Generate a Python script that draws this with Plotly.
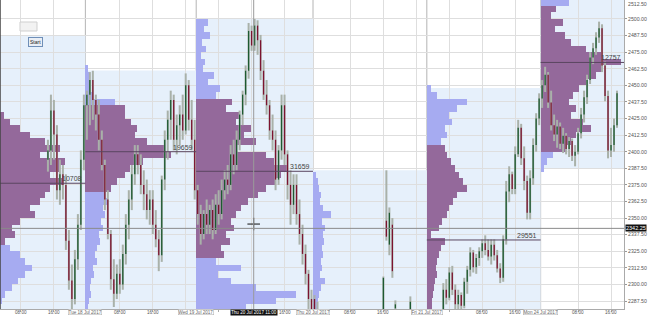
import plotly.graph_objects as go

# ---------------- data ----------------
# sessions (x in bar index, 1 bar per candle)
session_start = [-10, 28.5, 65.5, 104.5, 142.5, 180.5]
session_end = [28.5, 65.5, 104.5, 142.5, 180.5, 215]
session_high = [2487.5, 2461.25, 2500.5, 2386.0, 2448.0, 2520.0]
session_low = [2200.0, 2200.0, 2200.0, 2200.0, 2200.0, 2387.5]
va_high = [2430, 2435, 2440, 2270, 2405, 2508]
va_low = [2328, 2370, 2320, 2200, 2250, 2400]

# volume profiles: first bin centre (top) and volumes from top to bottom, 5-pt bins
BIN = 5.0
VOL_PER_BAR = 600.0
profile_top = [2487.5, 2462.5, 2497.5, 2382.5, 2447.5, 2512.5]
s1_vol = [2400, 3000, 2800, 3600, 3200, 4000, 3600, 4400, 4000, 4800, 5200, 5600, 6800, 8000,
          10000, 12000, 15000, 18000, 14000, 19000, 18000, 16000, 18400, 16000, 15000, 14000,
          12000, 13000, 10000, 8400, 9000, 7000, 8000, 10000, 11000, 12400, 11000, 9600, 8400,
          7000, 6400, 6000]
s2_vol = [600, 800, 1000, 800, 1600, 6000, 8000, 8000, 9200, 10400, 10000, 12400, 16000, 17200,
          11600, 9000, 8000, 6400, 5200, 4000, 4400, 3600, 4000, 3200, 3600, 2800, 3000, 2400,
          2000, 2400, 1600, 1800, 1200, 1000, 1200, 800, 600]
s3_vol = [2400, 1600, 2800, 1200, 2000, 1000, 1800, 1400, 3600, 2400, 4800, 4000, 7200, 6000,
          8800, 8000, 11000, 9600, 12000, 8000, 14000, 15600, 18400, 17000, 16000, 14000, 12400,
          10400, 9000, 8000, 7000, 7600, 6000, 6800, 5000, 5600, 4000, 9000, 4400, 7000, 12000,
          20000, 16000, 10000]
s4_vol = [600, 1000, 1200, 1600, 1400, 2000, 3600, 1800, 2400, 2000, 2200, 1800, 2000, 1600,
          1800, 1400, 2400, 1600, 1200, 1000, 800]
s5_vol = [800, 2000, 8000, 6000, 4400, 5000, 3600, 4000, 2800, 3600, 4000, 4800, 5600, 6400,
          7200, 8000, 6000, 5200, 4400, 4000, 3000, 2400, 800, 3600, 2800, 2400, 2000, 1800,
          2000, 1600, 1400, 1200, 1000, 1000]
s6_vol = [5600, 3000, 2000, 4400, 2800, 4800, 6000, 9000, 12000, 16000, 12400, 11000, 9000, 7600,
          6400, 5600, 7000, 6000, 8400, 10000, 7000, 6000, 5000, 2400, 1200, 600]

poc_price = [2376.25, 2400.0, 2385.25, None, 2333.5, 2467.25]
poc_label = ["10708", "19659", "31659", "", "29551", "12757"]

# candles: (bar, open, high, low, close)
s1_candles = [(16, 2394, 2409, 2385, 2401), (17, 2401, 2443, 2390, 2431), (18, 2431, 2439, 2394, 2413),
              (19, 2413, 2420, 2364, 2371), (20, 2371, 2394, 2360, 2383), (21, 2383, 2390, 2364, 2375),
              (22, 2375, 2383, 2326, 2333), (23, 2333, 2341, 2296, 2303), (24, 2303, 2315, 2280, 2289),
              (25, 2289, 2326, 2285, 2319), (26, 2319, 2353, 2311, 2345), (27, 2345, 2401, 2341, 2394),
              (28, 2394, 2443, 2386, 2435)]
s2_candles = [(29, 2435, 2446, 2409, 2443), (30, 2443, 2460, 2420, 2454), (31, 2454, 2461, 2424, 2439),
              (32, 2439, 2443, 2416, 2428), (33, 2428, 2439, 2401, 2409), (34, 2409, 2416, 2386, 2390),
              (35, 2390, 2394, 2356, 2364), (36, 2364, 2371, 2334, 2338), (37, 2338, 2341, 2296, 2304),
              (38, 2304, 2319, 2283, 2293), (39, 2293, 2315, 2289, 2308), (40, 2308, 2319, 2293, 2300),
              (41, 2300, 2330, 2296, 2323), (42, 2323, 2353, 2315, 2345), (43, 2345, 2371, 2334, 2364),
              (44, 2364, 2390, 2356, 2383), (45, 2383, 2405, 2375, 2398), (46, 2398, 2405, 2383, 2390),
              (47, 2390, 2398, 2368, 2375), (48, 2375, 2386, 2356, 2368), (49, 2368, 2379, 2349, 2356),
              (50, 2356, 2371, 2345, 2364), (51, 2364, 2371, 2338, 2345), (52, 2345, 2356, 2328, 2334),
              (53, 2334, 2341, 2310, 2322), (54, 2322, 2382, 2317, 2379), (55, 2379, 2416, 2371, 2409),
              (56, 2409, 2431, 2394, 2424), (57, 2424, 2446, 2409, 2439), (58, 2439, 2443, 2401, 2409),
              (59, 2409, 2428, 2398, 2420), (60, 2420, 2435, 2405, 2428), (61, 2428, 2443, 2409, 2416),
              (62, 2416, 2459, 2413, 2450), (63, 2450, 2454, 2416, 2424), (64, 2424, 2439, 2401, 2409),
              (65, 2409, 2424, 2364, 2371)]
s3_candles = [(66, 2371, 2375, 2345, 2353), (67, 2353, 2360, 2330, 2338), (68, 2338, 2356, 2334, 2353),
              (69, 2353, 2364, 2338, 2345), (70, 2345, 2360, 2338, 2356), (71, 2356, 2364, 2334, 2341),
              (72, 2341, 2368, 2338, 2360), (73, 2360, 2371, 2345, 2353), (74, 2353, 2379, 2349, 2371),
              (75, 2371, 2386, 2364, 2379), (76, 2379, 2390, 2368, 2375), (77, 2375, 2405, 2371, 2398),
              (78, 2398, 2409, 2383, 2390), (79, 2390, 2416, 2386, 2409), (80, 2409, 2431, 2401, 2428),
              (81, 2428, 2446, 2420, 2443), (82, 2443, 2465, 2435, 2461), (83, 2461, 2497, 2455, 2491),
              (84, 2491, 2495, 2476, 2480), (85, 2480, 2500, 2476, 2495), (86, 2495, 2499, 2473, 2484),
              (87, 2484, 2488, 2454, 2461), (88, 2461, 2469, 2439, 2443), (89, 2443, 2454, 2428, 2435),
              (90, 2435, 2439, 2409, 2416), (91, 2416, 2428, 2401, 2409), (92, 2409, 2416, 2371, 2379),
              (93, 2379, 2405, 2375, 2401), (94, 2401, 2443, 2394, 2435), (95, 2435, 2443, 2390, 2398),
              (96, 2398, 2401, 2364, 2375), (97, 2375, 2386, 2345, 2360), (98, 2360, 2383, 2353, 2375),
              (99, 2375, 2383, 2345, 2353), (100, 2353, 2364, 2330, 2338), (101, 2338, 2345, 2315, 2323),
              (102, 2323, 2330, 2300, 2308), (103, 2308, 2311, 2281, 2289), (104, 2289, 2296, 2274, 2278)]
s4_candles = [(105, 2289, 2292, 2270, 2276), (106, 2276, 2287, 2266, 2270), (128, 2272, 2306, 2268, 2305),
              (129, 2348, 2386, 2333, 2336), (130, 2330, 2358, 2322, 2354), (131, 2345, 2350, 2305, 2310),
              (132, 2282, 2288, 2270, 2285), (137, 2280, 2291, 2272, 2287)]
s5_candles = [(148, 2278, 2301, 2272, 2296), (149, 2296, 2304, 2285, 2290), (150, 2290, 2313, 2288, 2309),
              (151, 2309, 2314, 2292, 2296), (152, 2296, 2300, 2280, 2285), (153, 2285, 2296, 2279, 2292),
              (154, 2292, 2294, 2281, 2284), (155, 2284, 2305, 2282, 2302), (156, 2302, 2314, 2293, 2311),
              (157, 2311, 2328, 2306, 2324), (158, 2324, 2326, 2309, 2313), (159, 2313, 2323, 2308, 2320),
              (160, 2320, 2328, 2314, 2325), (161, 2325, 2334, 2320, 2331), (162, 2331, 2337, 2322, 2326),
              (163, 2326, 2334, 2318, 2321), (164, 2321, 2334, 2315, 2330), (165, 2330, 2334, 2318, 2322),
              (166, 2322, 2326, 2309, 2312), (167, 2312, 2316, 2301, 2305), (168, 2305, 2337, 2302, 2334),
              (169, 2334, 2378, 2330, 2370), (170, 2370, 2389, 2362, 2383), (171, 2383, 2385, 2368, 2372),
              (172, 2372, 2404, 2368, 2398), (173, 2398, 2424, 2396, 2418), (174, 2418, 2421, 2390, 2395),
              (175, 2395, 2404, 2371, 2378), (176, 2378, 2382, 2349, 2354), (177, 2354, 2386, 2349, 2380),
              (178, 2380, 2410, 2375, 2405), (179, 2405, 2429, 2400, 2425), (180, 2425, 2444, 2420, 2440)]
s6_candles = [(181, 2440, 2454, 2433, 2450), (182, 2450, 2464, 2445, 2458), (183, 2458, 2460, 2433, 2437),
              (184, 2437, 2446, 2416, 2420), (185, 2420, 2428, 2408, 2413), (186, 2413, 2424, 2403, 2419),
              (187, 2419, 2422, 2402, 2406), (188, 2406, 2418, 2399, 2412), (189, 2412, 2414, 2398, 2402),
              (190, 2402, 2411, 2396, 2408), (191, 2408, 2410, 2393, 2397), (192, 2397, 2405, 2389, 2400),
              (193, 2400, 2418, 2398, 2414), (194, 2414, 2433, 2410, 2428), (195, 2428, 2446, 2422, 2441),
              (196, 2441, 2458, 2436, 2454), (197, 2454, 2475, 2451, 2471), (198, 2471, 2482, 2466, 2478),
              (199, 2478, 2490, 2473, 2486), (200, 2486, 2498, 2482, 2493), (201, 2493, 2496, 2460, 2465),
              (202, 2465, 2468, 2438, 2442), (203, 2442, 2446, 2395, 2401), (204, 2401, 2418, 2396, 2405),
              (205, 2405, 2425, 2400, 2420), (206, 2420, 2446, 2418, 2444)]

price_ticks = [2287.5, 2300.0, 2312.5, 2325.0, 2337.5, 2350.0, 2362.5, 2375.0, 2387.5, 2400.0,
               2412.5, 2425.0, 2437.5, 2450.0, 2462.5, 2475.0, 2487.5, 2500.0, 2512.5]
time_tick_bars = [7, 18, 40, 51, 62, 73, 84, 95, 117, 128, 139, 150, 161, 172, 193, 204]
time_tick_text = ["08:00", "16:00", "08:00", "16:00", "", "", "", "16:00", "08:00", "16:00",
                  "", "", "08:00", "16:00", "08:00", "16:00"]
date_labels = ["Tue 18 Jul 2017", "Wed 19 Jul 2017", "Thu 20 Jul 2017", "Fri 21 Jul 2017", "Mon 24 Jul 2017"]
cross_bar = 84.7
cross_price = 2342.25
cross_time = "Thu 20 Jul 2017 11:00"
cursor_price = 2345.5

X_MAX = 208.33
Y_MIN, Y_MAX = 2281.5, 2514.3

PURPLE = "#94699b"
BLUE = "#a6abf1"
BOX = "#e6f0fb"

# ---------------- figure ----------------
fig = go.Figure()
shapes = []
for i in range(len(session_start)):
    shapes.append(dict(type="rect", xref="x", yref="y", x0=session_start[i], x1=session_end[i],
                       y0=session_low[i], y1=session_high[i], fillcolor=BOX,
                       line=dict(width=0), layer="below"))
for i in range(1, len(session_start)):
    shapes.append(dict(type="line", xref="x", yref="paper", x0=session_start[i], x1=session_start[i],
                       y0=0, y1=1, line=dict(color="#b4b4b4", width=1), layer="below"))

profiles = [s1_vol, s2_vol, s3_vol, s4_vol, s5_vol, s6_vol]
for i, vols in enumerate(profiles):
    centers = [profile_top[i] - BIN * k for k in range(len(vols))]
    colors = [PURPLE if va_low[i] <= c <= va_high[i] else BLUE for c in centers]
    fig.add_trace(go.Bar(orientation="h", y=centers, x=[v / VOL_PER_BAR for v in vols],
                         base=session_start[i], width=BIN,
                         marker=dict(color=colors, line=dict(width=0)),
                         hoverinfo="skip", showlegend=False))

# POC lines + labels
annotations = []
for i, p in enumerate(poc_price):
    if p is None:
        continue
    shapes.append(dict(type="line", xref="x", yref="y", x0=max(session_start[i], 0), x1=session_end[i],
                       y0=p, y1=p, line=dict(color="#5a4660", width=1)))
    annotations.append(dict(x=min(session_end[i], X_MAX) - 0.5, y=p, xref="x", yref="y",
                            text=poc_label[i], showarrow=False, xanchor="right", yanchor="bottom",
                            font=dict(size=7, color="#444", family="Arial"), yshift=-1))

# candles
all_candles = s1_candles + s2_candles + s3_candles + s4_candles + s5_candles + s6_candles
wx, wy, ux, uy, dx, dy = [], [], [], [], [], []
for (b, o, h, l, c) in all_candles:
    wx += [b, b, None]
    wy += [l, h, None]
    if c >= o:
        ux += [b, b, None]
        uy += [o, c, None]
    else:
        dx += [b, b, None]
        dy += [o, c, None]
fig.add_trace(go.Scatter(x=wx, y=wy, mode="lines", line=dict(color="#a9b1a9", width=2),
                         hoverinfo="skip", showlegend=False))
fig.add_trace(go.Scatter(x=ux, y=uy, mode="lines", line=dict(color="#1d5a31", width=1.3),
                         hoverinfo="skip", showlegend=False))
fig.add_trace(go.Scatter(x=dx, y=dy, mode="lines", line=dict(color="#7c1330", width=1.3),
                         hoverinfo="skip", showlegend=False))

# crosshair
shapes.append(dict(type="line", xref="paper", yref="y", x0=0, x1=1, y0=cross_price, y1=cross_price,
                   line=dict(color="#8a8a8a", width=1)))
shapes.append(dict(type="line", xref="x", yref="paper", x0=cross_bar, x1=cross_bar, y0=0, y1=1,
                   line=dict(color="#9a9a9a", width=1)))
fig.add_trace(go.Scatter(x=[cross_bar], y=[cursor_price], mode="markers",
                         marker=dict(symbol="cross-thin", size=9, line=dict(color="#111", width=1)),
                         hoverinfo="skip", showlegend=False))
annotations.append(dict(x=1, y=cross_price, xref="paper", yref="y", text=f"{cross_price:.2f}",
                        showarrow=False, xanchor="left", bgcolor="#111", borderpad=0, xshift=1,
                        font=dict(size=5.5, color="white", family="Arial")))
# top price label (sits at the very top edge of the axis)
annotations.append(dict(x=1, y=1, xref="paper", yref="paper", text=f"{price_ticks[-1]:.2f}",
                        showarrow=False, xanchor="left", yanchor="top", xshift=3, borderpad=0,
                        font=dict(size=5.2, color="#555", family="Arial")))

# left border
shapes.append(dict(type="line", xref="paper", yref="paper", x0=0, x1=0, y0=0, y1=1,
                   line=dict(color="#444", width=1.5)))

# bottom labels
for b, t in zip(time_tick_bars, time_tick_text):
    if t:
        annotations.append(dict(x=b, y=0, xref="x", yref="paper", text=t, showarrow=False,
                                yanchor="top", borderpad=0,
                                font=dict(size=4.6, color="#555", family="Arial")))
for s, t in zip(session_start[1:], date_labels):
    annotations.append(dict(x=s, y=0, xref="x", yref="paper", text=t, showarrow=False,
                            yanchor="top", bordercolor="#aaa", borderwidth=0.5, borderpad=0,
                            bgcolor="white", font=dict(size=4.6, color="#666", family="Arial")))
annotations.append(dict(x=cross_bar, y=0, xref="x", yref="paper", text=cross_time, showarrow=False,
                        yanchor="top", bgcolor="#111", borderpad=0,
                        font=dict(size=4.6, color="white", family="Arial")))

# start widget
shapes.append(dict(type="rect", xref="paper", yref="paper", x0=20 / 624, x1=37 / 624,
                   y0=1 - 31 / 309, y1=1 - 22 / 309, fillcolor="#f2f2f2",
                   line=dict(color="#cfcfcf", width=1)))
annotations.append(dict(x=28 / 624, y=1 - 37 / 309, xref="paper", yref="paper", text="Start",
                        showarrow=False, bgcolor="#e9eef5", bordercolor="#6f8fb8", borderwidth=1,
                        borderpad=1, font=dict(size=5, color="#222", family="Arial")))

fig.update_layout(
    width=650, height=317,
    margin=dict(l=0, r=26, t=0, b=8),
    paper_bgcolor="white", plot_bgcolor="white",
    barmode="overlay", bargap=0,
    shapes=shapes, annotations=annotations,
    showlegend=False,
    xaxis=dict(range=[0, X_MAX], tickvals=time_tick_bars, showticklabels=False,
               showgrid=True, gridcolor="#dedede", gridwidth=1, zeroline=False,
               showline=True, linecolor="#aaaaaa", ticks="outside", ticklen=2, tickcolor="#aaa",
               fixedrange=True),
    yaxis=dict(range=[Y_MIN, Y_MAX], side="right", tickvals=price_ticks[:-1],
               ticktext=[f"{v:.2f}" for v in price_ticks[:-1]],
               tickfont=dict(size=5.2, color="#555", family="Arial"),
               showgrid=True, gridcolor="#dedede", gridwidth=1, zeroline=False,
               showline=True, linecolor="#aaaaaa", ticks="outside", ticklen=2, tickcolor="#999",
               automargin=False),
)
fig.write_html("out.html")
